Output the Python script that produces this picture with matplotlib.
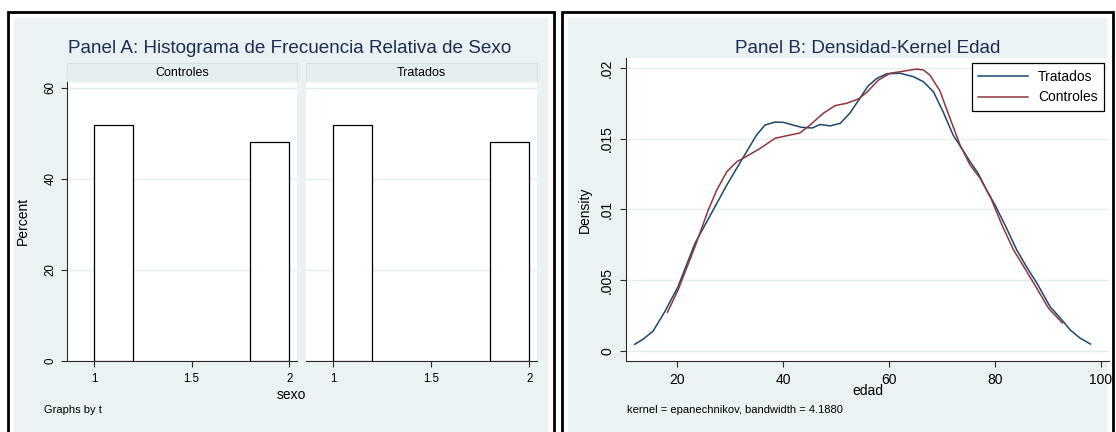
import matplotlib
matplotlib.use('Agg')
import matplotlib.pyplot as plt
from matplotlib.patches import Rectangle

plt.rcParams['font.family'] = ['Liberation Sans', 'DejaVu Sans']

# Panel A: relative frequency of sexo, by group
groups = ['Controles', 'Tratados']
sexo_bins = [1.0, 1.8]
pct_controles = [51.9, 48.1]
pct_tratados = [51.9, 48.1]

# Panel B: kernel density of edad
edad_tratados = [12.0, 13.6, 15.5, 17.7, 20.2, 23.4, 26.9, 29.4, 32.2, 35.0, 36.6, 38.5,
                 40.1, 41.5, 43.5, 45.5, 47.0, 48.9, 50.8, 52.6, 54.5, 56.0, 57.7, 59.6,
                 62.1, 64.6, 66.5, 68.4, 70.2, 72.1, 73.7, 75.3, 76.8, 78.4, 80.0, 82.0,
                 84.1, 86.0, 87.9, 90.4, 92.9, 94.2, 96.0, 98.0]
dens_tratados = [.00045, .00081, .00139, .00276, .00453, .0076, .0100, .01172, .01349,
                 .01525, .01596, .01617, .01615, .0160, .0158, .01575, .0160, .0159,
                 .01608, .01679, .01785, .0187, .01926, .01959, .01962, .01938, .01902,
                 .0183, .0169, .01525, .01431, .01337, .01255, .01136, .0103, .0088,
                 .00712, .0059, .00477, .00311, .00205, .00146, .0009, .00047]
edad_controles = [18.2, 20.2, 23.4, 25.9, 27.5, 29.4, 31.3, 32.5, 35.7, 38.5, 40.4, 43.2,
                  45.1, 47.6, 49.8, 52.0, 54.2, 55.8, 58.0, 60.2, 62.1, 64.0, 65.2, 66.5,
                  67.7, 69.6, 71.5, 73.4, 75.3, 77.2, 79.1, 81.3, 83.5, 85.5, 87.5, 90.1,
                  92.7]
dens_controles = [.00272, .00429, .00736, .00995, .01136, .01266, .01337, .01361, .01431,
                  .01502, .01518, .0154, .01596, .01679, .01733, .0175, .0178, .01827,
                  .01914, .01962, .01973, .01985, .01992, .01985, .0195, .01838, .01644,
                  .01455, .01313, .01219, .01089, .0089, .00712, .0059, .00465, .003,
                  .00196]

BG = '#EAF2F3'
GRID = '#E4EDEF'
NAVY = '#1A476F'
MAROON = '#90353B'
TITLE = '#1E2D53'
AXC = '#2b2b2b'

W, H = 1116, 432
fig = plt.figure(figsize=(W / 100, H / 100), dpi=100)


def box(x0, y0, x1, y1):
    return [x0 / W, 1 - y1 / H, (x1 - x0) / W, (y1 - y0) / H]


def rect(x0, y0, x1, y1, **kw):
    fig.patches.append(Rectangle((x0 / W, 1 - y1 / H), (x1 - x0) / W, (y1 - y0) / H,
                                 transform=fig.transFigure, zorder=-2, **kw))


def txt(x, y, s, **kw):
    fig.text(x / W, 1 - y / H, s, **kw)


# outer frames of the two graphs
rect(7.5, 12, 553.5, 445, facecolor='white', edgecolor='black', linewidth=2)
rect(13.5, 18, 548, 445, facecolor=BG, edgecolor='none')
rect(561.5, 12, 1112.5, 445, facecolor='white', edgecolor='black', linewidth=2)
rect(568, 18, 1107, 445, facecolor=BG, edgecolor='none')

# ---- Panel A
txt(290, 52.7, 'Panel A: Histograma de Frecuencia Relativa de Sexo', ha='center',
    va='baseline', fontsize=13.6, color=TITLE)
spans = [(67, 297), (306, 537)]
for i, (name, pct) in enumerate(zip(groups, [pct_controles, pct_tratados])):
    x0, x1 = spans[i]
    rect(x0, 63.3, x1, 81.5, facecolor='#E5EEF0', edgecolor='#D6E2E6', linewidth=0.8)
    txt((x0 + x1) / 2, 72.5, name, ha='center', va='center', fontsize=9, color='black')
    ax = fig.add_axes(box(x0, 81.5, x1, 361))
    ax.bar(sexo_bins, pct, width=0.2, align='edge', color='white', edgecolor='black',
           linewidth=0.9, zorder=3)
    ax.set_xlim(0.862, 2.04)
    ax.set_ylim(0, 61.4)
    ax.set_xticks([1, 1.5, 2])
    ax.set_xticklabels(['1', '1.5', '2'])
    ax.set_yticks([0, 20, 40, 60])
    ax.yaxis.grid(True, color=GRID, linewidth=1)
    ax.set_axisbelow(True)
    for s in ['top', 'right']:
        ax.spines[s].set_visible(False)
    ax.spines['bottom'].set_color(AXC)
    ax.spines['left'].set_color(AXC)
    ax.tick_params(axis='x', length=4, width=0.8, color=AXC, labelsize=8.3, pad=5)
    if i == 0:
        ax.set_yticklabels(['0', '20', '40', '60'], rotation=90, va='center')
        ax.tick_params(axis='y', length=4, width=0.8, color=AXC, labelsize=8.3, pad=3.5)
    else:
        ax.spines['left'].set_visible(False)
        ax.tick_params(axis='y', length=0, labelleft=False)

txt(23, 221, 'Percent', rotation=90, ha='center', va='center', fontsize=10)
txt(291, 399, 'sexo', ha='center', va='baseline', fontsize=10)
txt(43.6, 413, 'Graphs by t', ha='left', va='baseline', fontsize=8)

# ---- Panel B
txt(868, 52.7, 'Panel B: Densidad-Kernel Edad', ha='center', va='baseline', fontsize=13.6,
    color=TITLE)
axb = fig.add_axes(box(626, 58.3, 1109, 360.5))
axb.plot(edad_tratados, dens_tratados, color=NAVY, linewidth=1.1, label='Tratados')
axb.plot(edad_controles, dens_controles, color=MAROON, linewidth=1.1, label='Controles')
axb.set_xlim(10.38, 101.5)
axb.set_ylim(-0.000693, 0.02068)
axb.set_xticks([20, 40, 60, 80, 100])
axb.set_yticks([0, 0.005, 0.01, 0.015, 0.02])
axb.set_yticklabels(['0', '.005', '.01', '.015', '.02'], rotation=90, va='center')
axb.yaxis.grid(True, color=GRID, linewidth=1)
axb.set_axisbelow(True)
for s in ['top', 'right']:
    axb.spines[s].set_visible(False)
axb.spines['bottom'].set_color(AXC)
axb.spines['left'].set_color(AXC)
axb.tick_params(axis='both', length=4, width=0.8, color=AXC, labelsize=10)
axb.tick_params(axis='x', pad=5)
axb.tick_params(axis='y', pad=4.5)
leg = axb.legend(loc='upper right', bbox_to_anchor=(1104 / W, 1 - 63.3 / H),
                 bbox_transform=fig.transFigure, borderaxespad=0, fontsize=10,
                 handlelength=3.6, handletextpad=0.7, borderpad=0.45, labelspacing=0.5,
                 fancybox=False, framealpha=1)
leg.get_frame().set_edgecolor('black')
leg.get_frame().set_linewidth(0.9)

txt(585, 210, 'Density', rotation=90, ha='center', va='center', fontsize=10)
txt(868, 395, 'edad', ha='center', va='baseline', fontsize=10)
txt(627, 413.3, 'kernel = epanechnikov, bandwidth = 4.1880', ha='left', va='baseline',
    fontsize=8)

fig.savefig('out.png', dpi=100)
